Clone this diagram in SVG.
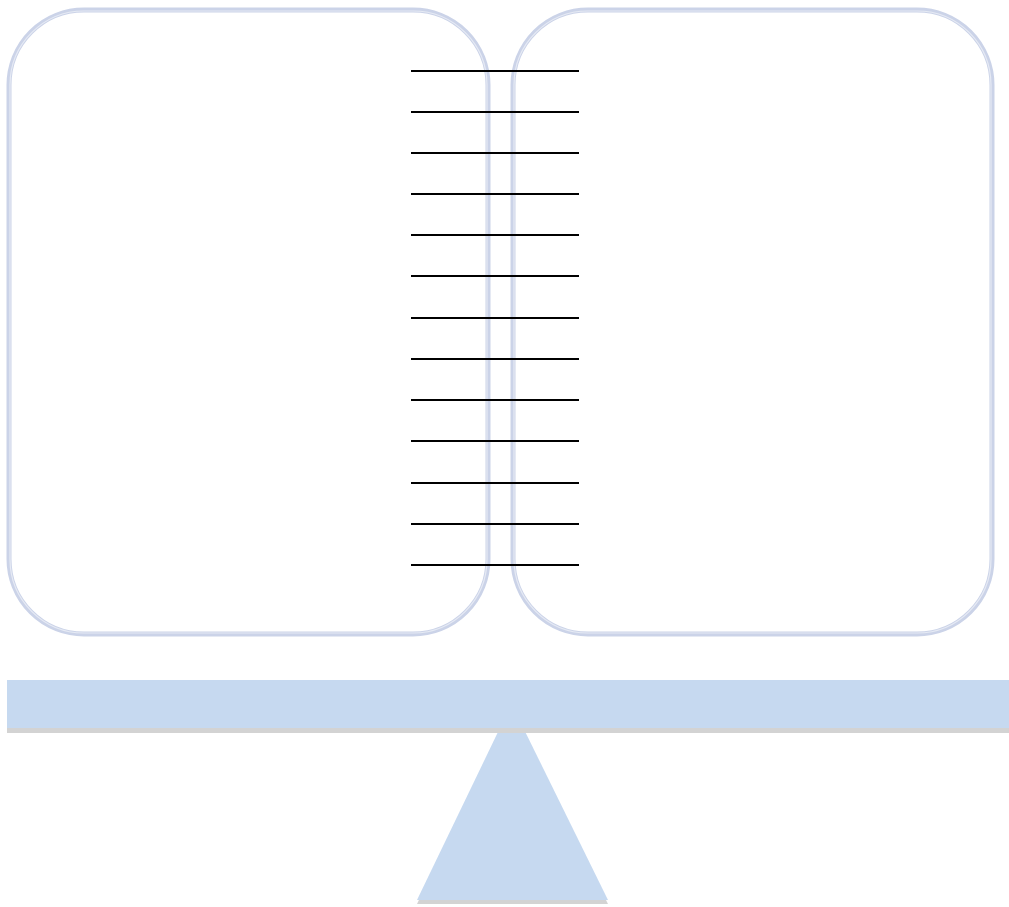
<svg xmlns="http://www.w3.org/2000/svg" width="1009" height="907" viewBox="0 0 1009 907">
  <style>
    .panel { fill: #ffffff; stroke: #cbd3e8; stroke-width: 5; }
    .panel-hi { fill: none; stroke: #e6eaf4; stroke-width: 1.2; }
    .rule { stroke: #000000; stroke-width: 2; }
    .wood { fill: #c6d9f0; }
    .shade { fill: #d3d3d3; }
  </style>
  <rect width="1009" height="907" fill="#ffffff"/>

  <!-- two rounded panels -->
  <g id="panel-left">
    <rect class="panel" x="9" y="10" width="479" height="624" rx="75" ry="75"/>
    <rect class="panel-hi" x="10" y="11" width="477" height="622" rx="74" ry="74"/>
  </g>
  <g id="panel-right">
    <rect class="panel" x="513" y="10" width="479" height="624" rx="75" ry="75"/>
    <rect class="panel-hi" x="514" y="11" width="477" height="622" rx="74" ry="74"/>
  </g>

  <!-- horizontal rules across the middle -->
  <g id="connectors">
    <line class="rule" x1="411" y1="71" x2="579" y2="71"/>
    <line class="rule" x1="411" y1="112" x2="579" y2="112"/>
    <line class="rule" x1="411" y1="153" x2="579" y2="153"/>
    <line class="rule" x1="411" y1="194" x2="579" y2="194"/>
    <line class="rule" x1="411" y1="235" x2="579" y2="235"/>
    <line class="rule" x1="411" y1="276" x2="579" y2="276"/>
    <line class="rule" x1="411" y1="318" x2="579" y2="318"/>
    <line class="rule" x1="411" y1="359" x2="579" y2="359"/>
    <line class="rule" x1="411" y1="400" x2="579" y2="400"/>
    <line class="rule" x1="411" y1="441" x2="579" y2="441"/>
    <line class="rule" x1="411" y1="483" x2="579" y2="483"/>
    <line class="rule" x1="411" y1="524" x2="579" y2="524"/>
    <line class="rule" x1="411" y1="565" x2="579" y2="565"/>
  </g>

  <!-- fulcrum -->
  <g id="fulcrum">
    <polygon class="shade" points="511.5,708 608,904 417,904"/>
    <polygon class="wood" points="511.5,704 608,900 417,900"/>
  </g>

  <!-- beam -->
  <g id="beam">
    <rect class="shade" x="7" y="684" width="1002" height="49"/>
    <rect class="wood" x="7" y="680" width="1002" height="48"/>
  </g>
</svg>
